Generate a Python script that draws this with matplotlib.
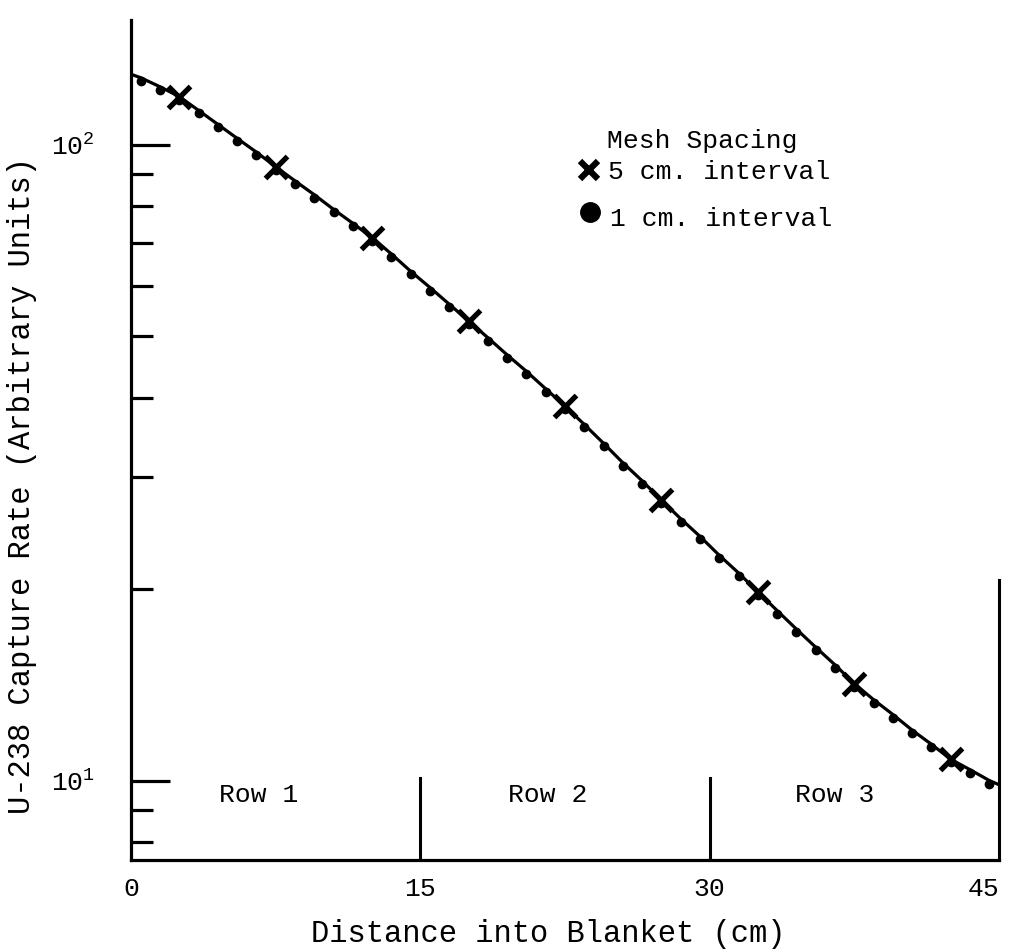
import matplotlib
matplotlib.use("Agg")
import matplotlib.pyplot as plt
import matplotlib.transforms as mtransforms
from matplotlib.ticker import FixedLocator, NullFormatter

plt.rcParams['font.family'] = ['Liberation Mono', 'DejaVu Sans Mono']
plt.rcParams['mathtext.fontset'] = 'custom'
plt.rcParams['mathtext.rm'] = 'Liberation Mono'

# 1 cm mesh results (cell centres)
dist_1cm = [0.5, 1.5, 2.5, 3.5, 4.5, 5.5, 6.5, 7.5, 8.5, 9.5,
            10.5, 11.5, 12.5, 13.5, 14.5, 15.5, 16.5, 17.5, 18.5, 19.5,
            20.5, 21.5, 22.5, 23.5, 24.5, 25.5, 26.5, 27.5, 28.5, 29.5,
            30.5, 31.5, 32.5, 33.5, 34.5, 35.5, 36.5, 37.5, 38.5, 39.5,
            40.5, 41.5, 42.5, 43.5, 44.5]
rate_1cm = [127.4, 123.3, 119.0, 113.2, 107.6, 102.3, 97.3, 92.3, 87.7, 83.4,
            79.1, 75.2, 71.4, 67.3, 63.2, 59.6, 56.1, 52.8, 49.7, 46.7,
            44.0, 41.3, 38.8, 36.3, 33.9, 31.6, 29.6, 27.6, 25.8, 24.2,
            22.6, 21.2, 19.8, 18.5, 17.3, 16.2, 15.2, 14.2, 13.4, 12.7,
            12.0, 11.4, 10.8, 10.4, 10.0]

# 5 cm mesh results
dist_5cm = [2.5, 7.5, 12.5, 17.5, 22.5, 27.5, 32.5, 37.5, 42.5]
rate_5cm = [119.0, 92.3, 71.4, 52.8, 38.8, 27.6, 19.8, 14.2, 10.8]

# smooth curve, with its end points at the two blanket faces
curve_x = [0.0] + dist_1cm + [45.0]
curve_y = [129.0] + rate_1cm + [9.85]

row_labels = ['Row 1', 'Row 2', 'Row 3']
row_pos = [6.6, 21.6, 36.5]
row_bounds = [15, 30]

W, H = 1012, 949


def fx(px):
    return px / W


def fy(py):
    return 1 - py / H


fig = plt.figure(figsize=(W / 100, H / 100), dpi=100)
ax = fig.add_axes([fx(131), fy(860), (999 - 131) / W, (860 - 20) / H])

ax.plot(curve_x, curve_y, color='black', lw=2.3)
# the 1 cm points hang just under the line in the original
dots_tr = mtransforms.offset_copy(ax.transData, fig=fig, x=0, y=-3, units='dots')
ax.plot(dist_1cm, rate_1cm, 'o', color='black', ms=6, transform=dots_tr)
ax.plot(dist_5cm, rate_5cm, 'x', color='black', ms=16, mew=3.8)

ax.set_yscale('log')
ax.set_xlim(0, 45)
ax.set_ylim(7.5, 157)

# row boundaries
for b in row_bounds:
    ax.plot([b, b], [7.5, 10.1], color='black', lw=2.2)
ax.plot([45, 45], [7.5, 20.7], color='black', lw=2.2, clip_on=False)
for lab, p in zip(row_labels, row_pos):
    ax.text(p, 9.5, lab, ha='center', va='center', fontsize=19)

ax.spines['top'].set_visible(False)
ax.spines['right'].set_visible(False)
ax.spines['left'].set_linewidth(2.3)
ax.spines['bottom'].set_linewidth(2.3)

ax.set_xticks([0, 15, 30, 45])
ax.tick_params(axis='x', length=0, pad=12, labelsize=19)
ax.get_xticklabels()[-1].set_horizontalalignment('right')

ax.yaxis.set_major_locator(FixedLocator([10, 100]))
ax.yaxis.set_minor_locator(FixedLocator([8, 9, 20, 30, 40, 50, 60, 70, 80, 90]))
ax.yaxis.set_minor_formatter(NullFormatter())
ax.set_yticklabels([r'$\mathregular{10^1}$', r'$\mathregular{10^2}$'])
ax.tick_params(axis='y', which='major', direction='in', length=28, width=2.3,
               pad=26, labelsize=19)
ax.tick_params(axis='y', which='minor', direction='in', length=16, width=2.3)

fig.text(fx(22), fy(485), 'U-238 Capture Rate (Arbitrary Units)',
         rotation=90, ha='center', va='center', fontsize=22)
fig.text(fx(548), fy(934), 'Distance into Blanket (cm)',
         ha='center', va='center', fontsize=22)

# legend drawn by hand, as in the original
fig.text(fx(607), fy(141), 'Mesh Spacing', ha='left', va='center', fontsize=19)
ax.plot([fx(589)], [fy(170)], 'x', color='black', ms=13, mew=4.5,
        transform=fig.transFigure, clip_on=False)
fig.text(fx(608), fy(172), '5 cm. interval', ha='left', va='center', fontsize=19)
ax.plot([fx(590)], [fy(212)], 'o', color='black', ms=14,
        transform=fig.transFigure, clip_on=False)
fig.text(fx(610), fy(219), '1 cm. interval', ha='left', va='center', fontsize=19)

fig.savefig('out.png', dpi=100)
